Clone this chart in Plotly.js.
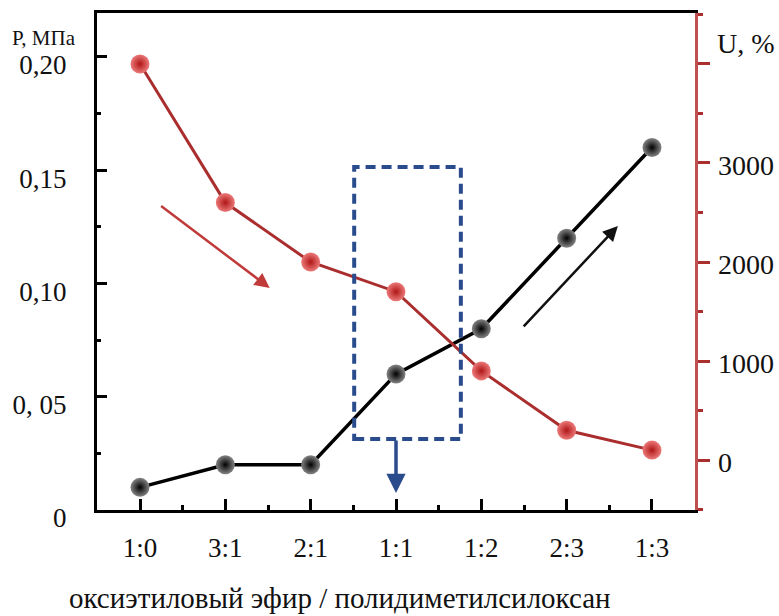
<!DOCTYPE html>
<html>
<head>
<meta charset="utf-8">
<script src="https://cdn.plot.ly/plotly-3.0.1.min.js"></script>
<style>html,body{margin:0;padding:0;background:#fff;}#chart{width:779px;height:616px;}</style>
</head>
<body>
<div id="chart"></div>
<script>
// Data
const categories = ["1:0", "3:1", "2:1", "1:1", "1:2", "2:3", "1:3"];
const pressureMPa = [0.01, 0.02, 0.02, 0.06, 0.08, 0.12, 0.16];
const elongationPct = [4000, 2600, 2000, 1700, 900, 300, 100];
const leftTickVals = [0, 0.05, 0.10, 0.15, 0.20];
const leftTickText = ["0", "0, 05", "0,10", "0,15", "0,20"];
const rightTickVals = [0, 1000, 2000, 3000, 4000];
const rightTickText = ["0", "1000", "2000", "3000", ""];

const xIdx = categories.map((c, i) => i);
const FONT = "Liberation Serif, Times New Roman, serif";
const RED = "#aa2e2e";
const BLUE = "#2b4c8c";

const traces = [
  {
    x: xIdx, y: elongationPct, yaxis: "y2", type: "scatter", mode: "lines+markers",
    line: {color: RED, width: 3},
    marker: {size: 19, color: "#ec7a7a", gradient: {type: "radial", color: "#b01616"}, line: {width: 0}},
    hoverinfo: "x+y"
  },
  {
    x: xIdx, y: pressureMPa, yaxis: "y", type: "scatter", mode: "lines+markers",
    line: {color: "#000", width: 3.5},
    marker: {size: 19, color: "#858585", gradient: {type: "radial", color: "#000"}, line: {width: 0}},
    hoverinfo: "x+y"
  }
];

const layout = {
  width: 779, height: 616,
  margin: {l: 97, r: 84, t: 13, b: 106},
  paper_bgcolor: "#fff", plot_bgcolor: "#fff",
  showlegend: false,
  font: {family: FONT, size: 27, color: "#111"},
  xaxis: {
    type: "linear", range: [-0.504, 6.504],
    tickmode: "array", tickvals: xIdx, ticktext: categories,
    ticks: "inside", ticklen: 11, tickwidth: 3, tickcolor: "#000",
    minor: {dtick: 0.5, tick0: 0, ticks: "inside", ticklen: 5, tickwidth: 3, tickcolor: "#000"},
    showline: true, linewidth: 3, linecolor: "#000", mirror: true,
    showgrid: false, zeroline: false,
    ticklabelstandoff: 12,
    tickfont: {family: FONT, size: 27, color: "#111"}
  },
  yaxis: {
    range: [0, 0.2194],
    tickmode: "array", tickvals: leftTickVals, ticktext: leftTickText,
    ticks: "inside", ticklen: 10, tickwidth: 3, tickcolor: "#000",
    minor: {dtick: 0.025, tick0: 0, ticks: "inside", ticklen: 4, tickwidth: 3, tickcolor: "#000"},
    showline: true, linewidth: 3, linecolor: "#000",
    showgrid: false, zeroline: false,
    ticklabelstandoff: 22,
    ticklabelshift: 8,
    tickfont: {family: FONT, size: 27, color: "#111"}
  },
  yaxis2: {
    overlaying: "y", side: "right",
    range: [-505, 4515],
    tickmode: "array", tickvals: rightTickVals, ticktext: rightTickText,
    ticks: "outside", ticklen: 12, tickwidth: 3, tickcolor: RED,
    minor: {dtick: 500, tick0: 0, ticks: "outside", ticklen: 5, tickwidth: 3, tickcolor: RED},
    showline: true, linewidth: 2.5, linecolor: "#c05050",
    showgrid: false, zeroline: false,
    ticklabelstandoff: 3,
    ticklabelshift: 2,
    tickfont: {family: FONT, size: 28, color: "#111"}
  },
  shapes: [
    {type: "rect", xref: "x", yref: "y", x0: 2.51, x1: 3.76, y0: 0.0313, y1: 0.1514,
     line: {color: BLUE, width: 4, dash: "10px,6px"}, fillcolor: "rgba(0,0,0,0)", layer: "above"}
  ],
  annotations: [
    {xref: "x", yref: "y", axref: "x", ayref: "y", x: 1.52, y: 0.098, ax: 0.23, ay: 0.1347,
     text: "", showarrow: true, arrowhead: 2, arrowsize: 1.2, arrowwidth: 2.5, arrowcolor: "#c03a3a"},
    {xref: "x", yref: "y", axref: "x", ayref: "y", x: 5.60, y: 0.1254, ax: 4.48, ay: 0.0804,
     text: "", showarrow: true, arrowhead: 2, arrowsize: 1.2, arrowwidth: 2.5, arrowcolor: "#111"},
    {xref: "x", yref: "y", axref: "x", ayref: "y", x: 3.0, y: 0.0075, ax: 3.0, ay: 0.0313,
     text: "", showarrow: true, arrowhead: 2, arrowsize: 1.1, arrowwidth: 3.5, arrowcolor: BLUE},
    {xref: "paper", yref: "paper", x: -0.145, y: 1.0, xanchor: "left", yanchor: "middle", yshift: -25,
     text: "P, МПа", showarrow: false, font: {family: FONT, size: 21, color: "#111"}},
    {xref: "paper", yref: "paper", x: 1.033, y: 1.0, xanchor: "left", yanchor: "middle", yshift: -30,
     text: "U, %", showarrow: false, font: {family: FONT, size: 28, color: "#111"}},
    {xref: "paper", yref: "paper", x: 0.406, y: -0.177, xanchor: "center", yanchor: "middle",
     text: "оксиэтиловый эфир / полидиметилсилоксан", showarrow: false,
     font: {family: FONT, size: 29, color: "#111"}}
  ]
};

Plotly.newPlot("chart", traces, layout, {displayModeBar: false, staticPlot: true});
</script>
</body>
</html>
